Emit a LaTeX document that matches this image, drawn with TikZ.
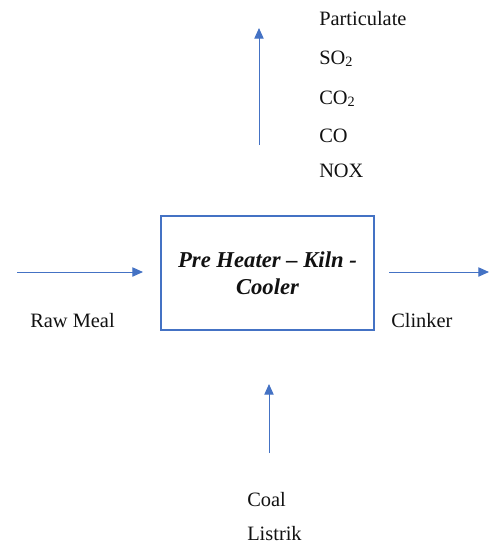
\documentclass[tikz,border=0pt]{standalone}
\usepackage{fontspec}
\setmainfont{Liberation Serif}
\usepackage{xcolor}
\usepackage{tikz}
\usetikzlibrary{arrows.meta,positioning}
\definecolor{cBlue}{HTML}{4472C4}
\definecolor{cInk}{HTML}{111111}
\tikzset{
  procbox/.style={draw=cBlue,line width=1.1pt,minimum width=159.75pt,minimum height=85.5pt,align=center,
    font=\fontsize{17}{20.5}\selectfont\bfseries\itshape,text=cInk},
  arr/.style={-{Triangle[length=8pt,width=7pt]},line width=0.75pt,color=cBlue},
  lbl/.style={font=\fontsize{15.3}{17}\selectfont,text=cInk,anchor=base west,inner sep=0pt},
}

\begin{document}
\begin{tikzpicture}[x=0.75pt,y=-0.75pt]
  \useasboundingbox (0,0) rectangle (489,544);
  \node[procbox] (kiln) at (267.5,273) {Pre Heater -- Kiln -\\Cooler};
  % emissions
  \coordinate (upS) at (259,145);
  \coordinate (upE) at (259,28);
  \draw[arr] (upS) -- (upE);
  \node[lbl] (part) at (319,25)  {Particulate};
  \node[lbl] (so2)  at (319,64)  {SO\textsubscript{2}};
  \node[lbl] (co2)  at (319,104) {CO\textsubscript{2}};
  \node[lbl] (co)   at (319,142) {CO};
  \node[lbl] (nox)  at (319,177) {NOX};
  % raw meal in
  \coordinate (inS) at (17,272);
  \coordinate (inE) at (143,272);
  \draw[arr] (inS) -- (inE);
  \node[lbl] (raw) at (30,327) {Raw Meal};
  % clinker out
  \coordinate (outS) at (389,272);
  \coordinate (outE) at (489,272);
  \draw[arr] (outS) -- (outE);
  \node[lbl] (clk) at (391,327) {Clinker};
  % fuel
  \coordinate (fuS) at (269,453);
  \coordinate (fuE) at (269,384);
  \draw[arr] (fuS) -- (fuE);
  \node[lbl] (coal) at (247,506) {Coal};
  \node[lbl] (lis)  at (247,540) {Listrik};
\end{tikzpicture}
\end{document}
